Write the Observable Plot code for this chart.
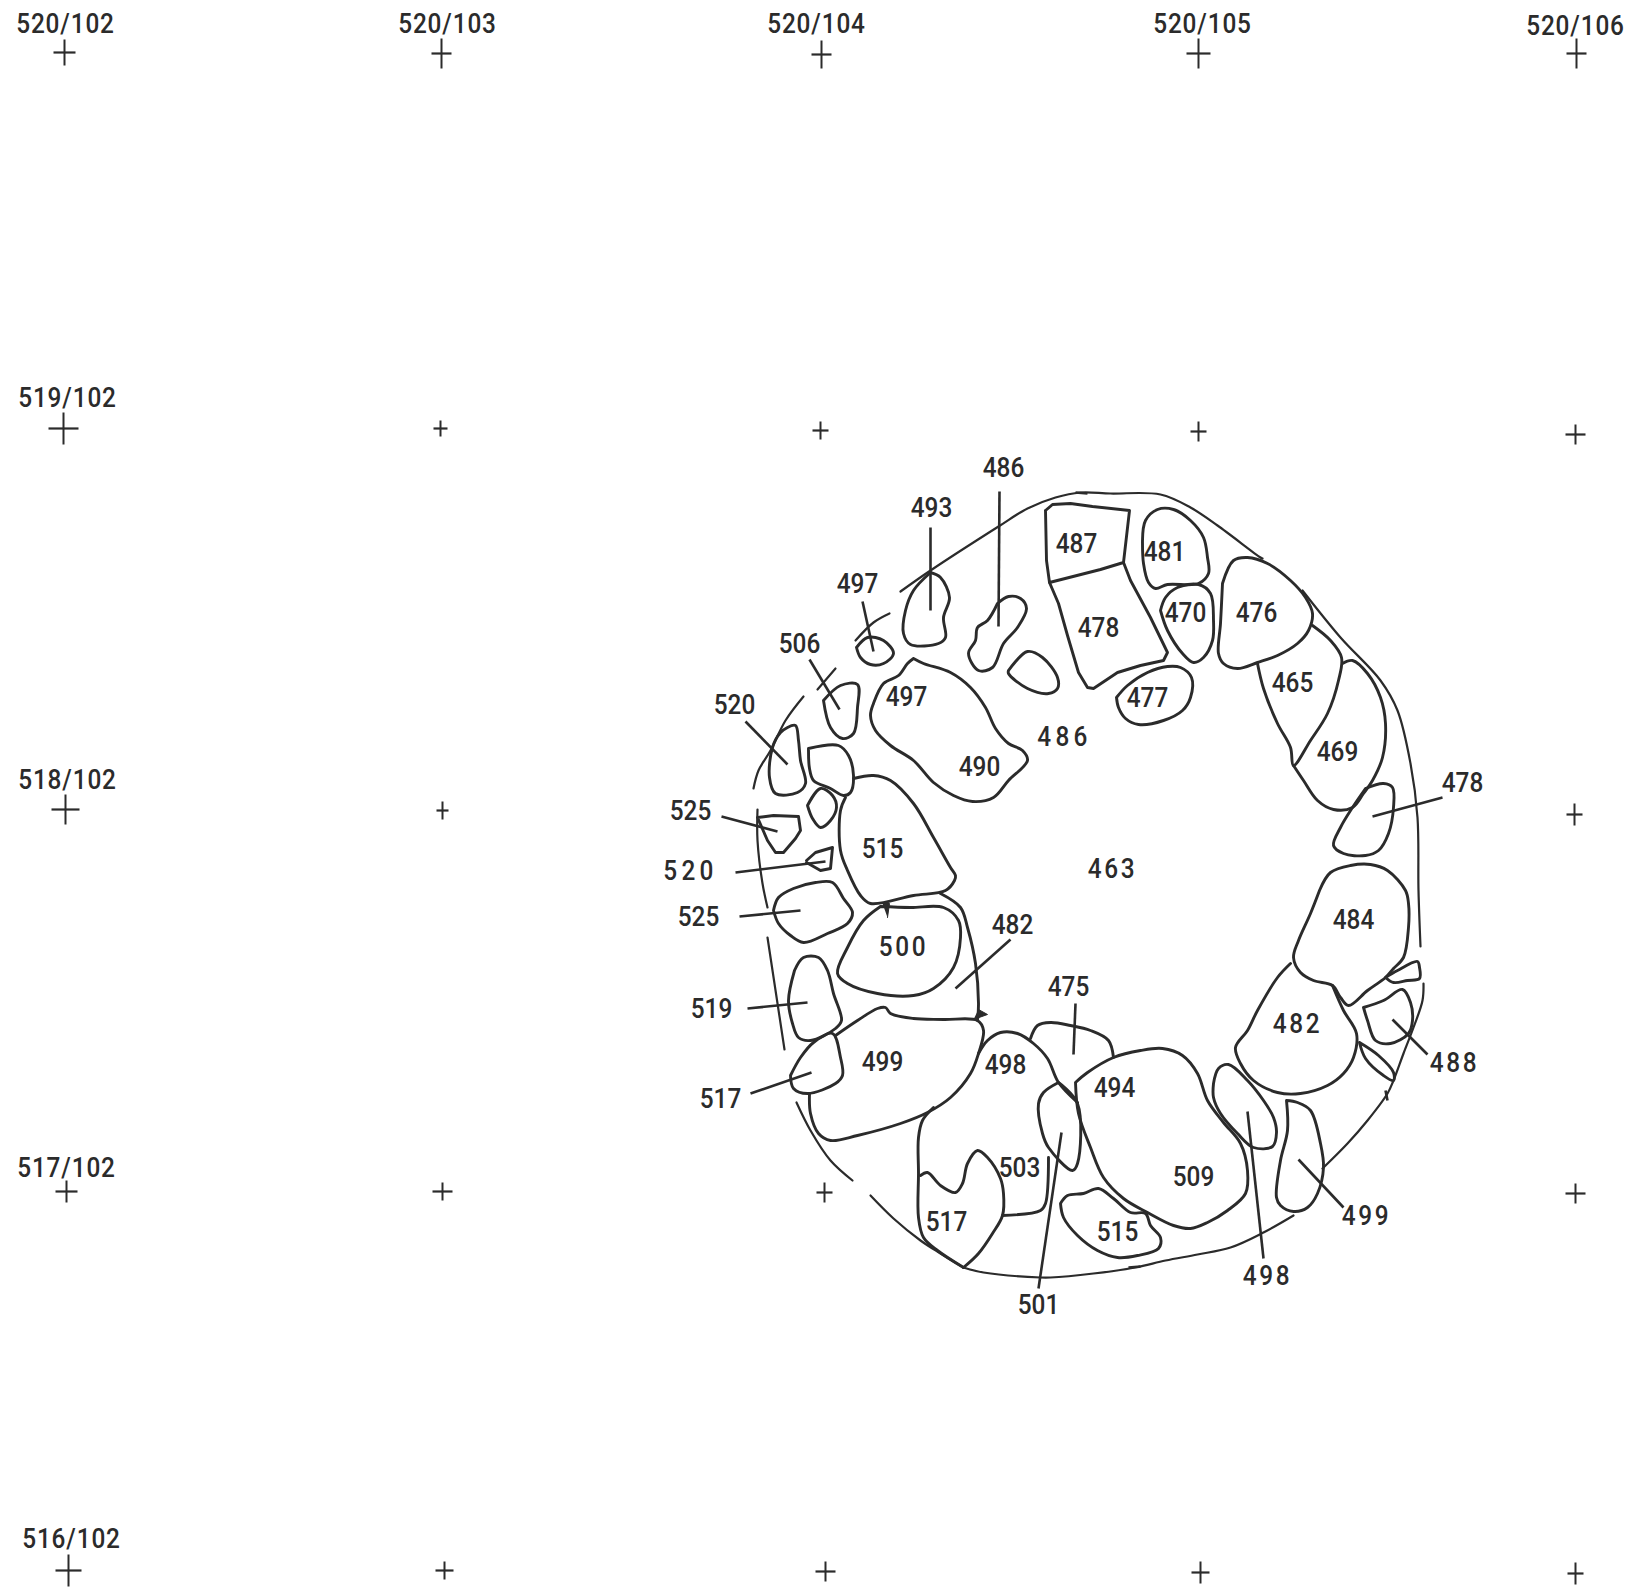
<!DOCTYPE html>
<html>
<head>
<meta charset="utf-8">
<style>
html,body{margin:0;padding:0;background:#fff}
svg{display:block}
.wide text{letter-spacing:5px}
.mid text{letter-spacing:3px}
.grid text{letter-spacing:1px}
</style>
<script src="https://cdn.jsdelivr.net/npm/d3@7"></script>
<script src="https://cdn.jsdelivr.net/npm/@observablehq/plot@0.6"></script>
</head>
<body>
<script>
// All positions are sheet coordinates of the excavation plan.
// Survey-grid crosses: [x, y, half width, half height]
const gridCrosses = [
  [64,52,11,13],[441,53,10,15],[821,54,10,14],[1198,53,12,15],[1576,53,10,15],
  [63,428,15,16],[440,428,7,8],[820,430,8,9],[1198,431,8,10],[1575,434,10,10],
  [65,809,14,15],[442,810,6,9],[1574,814,8,11],
  [66,1191,11,11],[442,1191,10,9],[824,1192,8,10],[1575,1193,10,10],
  [68,1570,13,16],[444,1570,9,9],[825,1571,10,10],[1200,1572,9,11],[1575,1573,8,11]
];
const gridLabels = [
  [65,25,"520/102"],[447,25,"520/103"],[816,25,"520/104"],[1202,25,"520/105"],[1575,27,"520/106"],
  [67,399,"519/102"],[67,781,"518/102"],[66,1169,"517/102"],[71,1540,"516/102"]
];
const levelLabels = [
  [1003,469,"486"],[931,509,"493"],[857,585,"497"],[799,645,"506"],[734,706,"520"],
  [906,698,"497"],[979,768,"490"],[690,812,"525"],[882,850,"515"],[1076,545,"487"],
  [1164,553,"481"],[1098,629,"478"],[1185,614,"470"],[1256,614,"476"],[1292,684,"465"],
  [1337,753,"469"],[1462,784,"478"],[698,918,"525"],[1012,926,"482"],[1068,988,"475"],
  [711,1010,"519"],[882,1063,"499"],[1005,1066,"498"],[720,1100,"517"],[1019,1169,"503"],
  [946,1223,"517"],[1038,1306,"501"],[1353,921,"484"],[1114,1089,"494"],[1193,1178,"509"],
  [1117,1233,"515"],[1147,699,"477"]
];
const midSpacedLabels = [
  [1112,870,"463"],[903,948,"500"],[1297,1025,"482"],[1454,1064,"488"],[1366,1217,"499"],[1267,1277,"498"]
];
const wideSpacedLabels = [
  [1064,738,"486"],[690,872,"520"]
];
const leaders = [
  [930,527,930,610],[999,491,998,626],[862,601,873,651],[809,659,839,709],[745,721,787,764],
  [721,816,777,831],[735,872,825,861],[739,916,800,910],[1010,939,955,988],[1075,1003,1073,1054],
  [747,1008,807,1002],[750,1093,811,1072],[1061,1132,1038,1288],[1247,1111,1263,1258],
  [1298,1159,1343,1207],[1392,1019,1427,1054],[1372,816,1442,797],
  [1385,1090,1387,1100],[1075,492,1087,493],[1128,1267,1140,1266]
];

// Boundary of the feature
const arcTop = [[900,591],[930,570],[998,526],[1027,508],[1055,497],[1080,492],[1110,493],[1160,494],[1190,507],[1217,525],[1260,557],[1262,558]];
const arcRight = [[1302,590],[1340,637],[1380,680],[1397,710],[1410,763],[1417,817],[1418,890],[1420,946]];
const arcLowerRight = [[1423,983],[1422,1000],[1413,1027],[1403,1053],[1393,1080],[1387,1093],[1367,1120],[1347,1143],[1322,1168]];
const arcBottom = [[1293,1215],[1263,1232],[1230,1247],[1197,1254],[1165,1260],[1135,1267],[1093,1273],[1050,1277],[1040,1277],[983,1272],[963,1267]];
const arcBottomLeft = [[870,1195],[893,1218],[920,1240],[940,1253],[963,1267]];
const arcLowerLeft = [[796,1102],[810,1130],[830,1160],[852,1180]];
const arcUpperLeft = [[803,696],[785,720],[770,750],[758,770],[753,788]];
const arcShort1 = [[835,668],[817,689]];
const arcShort2 = [[889,613],[873,622],[855,640]];
const arcLeft1 = [[757,809],[757,840],[762,883],[767,907]];
const arcLeft2 = [[767,937],[784,1049]];

// Stones
const stone476 = [[1222,583],[1233,560],[1247,557],[1267,563],[1290,580],[1305,597],[1312,613],[1308,630],[1297,643],[1277,655],[1257,662],[1237,668],[1223,663],[1218,653],[1220,623],[1222,583]];
const stone481 = [[1142,540],[1145,520],[1157,509],[1173,509],[1190,520],[1203,537],[1207,557],[1208,573],[1198,583],[1167,584],[1155,588],[1148,582],[1143,563],[1142,540]];
const stone470 = [[1160,610],[1165,597],[1177,587],[1198,584],[1210,593],[1213,620],[1212,640],[1203,657],[1193,662],[1182,653],[1167,630],[1160,610]];
const stone477 = [[1116,697],[1127,685],[1147,672],[1167,666],[1180,667],[1191,677],[1190,697],[1182,710],[1163,720],[1138,724],[1125,718],[1118,707],[1116,697]];
const stone465 = [[1257,663],[1263,688],[1277,723],[1290,747],[1293,765],[1310,740],[1327,713],[1338,680],[1341,657],[1330,640],[1312,625]];
const stone469 = [[1342,663],[1352,660],[1367,673],[1380,697],[1385,723],[1382,757],[1372,780],[1363,793],[1352,807],[1333,809],[1317,800],[1303,780],[1293,765]];
const stone478r = [[1365,788],[1383,783],[1392,787],[1393,807],[1388,833],[1378,850],[1365,855],[1343,853],[1333,845],[1340,827],[1352,807],[1365,788]];
const stone484 = [[1319,890],[1330,872],[1350,865],[1370,864],[1387,870],[1405,890],[1408,903],[1408,927],[1403,957],[1393,968],[1385,977],[1367,990],[1348,1005],[1340,997],[1332,985],[1313,980],[1300,972],[1293,957],[1298,940],[1310,913],[1319,890]];
const stoneSmallE = [[1385,977],[1397,970],[1417,961],[1419,967],[1419,978],[1407,980],[1393,982],[1385,977]];
const stone488 = [[1363,1007],[1383,1000],[1402,989],[1410,1002],[1412,1020],[1408,1033],[1390,1043],[1375,1040],[1367,1020],[1363,1007]];
const sliver = [[1359,1042],[1378,1055],[1393,1072],[1393,1080],[1383,1075],[1365,1058],[1359,1042]];
const stone482r = [[1290,963],[1277,977],[1257,1010],[1247,1030],[1235,1047],[1240,1063],[1253,1080],[1277,1092],[1300,1093],[1327,1085],[1343,1073],[1353,1057],[1356,1033],[1343,1010],[1332,985]];
const stone498r = [[1213,1083],[1218,1068],[1228,1064],[1247,1080],[1263,1100],[1273,1117],[1276,1132],[1272,1146],[1253,1147],[1237,1133],[1220,1113],[1213,1097],[1213,1083]];
const stone499r = [[1286,1100],[1297,1102],[1310,1110],[1320,1143],[1323,1167],[1317,1193],[1307,1207],[1293,1211],[1280,1205],[1276,1197],[1280,1160],[1287,1130],[1286,1100]];
const stone493 = [[930,572],[940,577],[949,597],[943,617],[945,637],[938,643],[910,644],[903,633],[905,610],[913,590],[930,572]];
const stone486 = [[997,603],[1008,596],[1020,598],[1026,608],[1017,627],[1003,643],[992,667],[978,670],[968,653],[975,640],[977,627],[987,620],[997,603]];
const stoneN = [[1008,670],[1027,651],[1042,657],[1057,677],[1057,688],[1048,693],[1027,688],[1008,673],[1008,670]];
const stone497s = [[856,647],[867,637],[883,640],[893,653],[883,663],[870,664],[860,657],[856,647]];
const stone506 = [[823,700],[840,685],[857,684],[857,707],[853,733],[842,738],[830,727],[823,700]];
const stone520 = [[787,727],[795,725],[798,740],[800,760],[805,783],[797,792],[775,793],[769,777],[772,747],[780,732],[787,727]];
const stoneW1 = [[808,748],[838,745],[848,755],[853,775],[850,792],[843,795],[830,788],[813,780],[809,768],[808,748]];
const stoneW2 = [[807,805],[820,788],[832,795],[836,807],[830,820],[820,827],[812,818],[807,805]];
const stone515 = [[845,797],[840,810],[840,850],[847,870],[860,895],[870,903],[913,895],[945,890],[954,880],[955,875],[950,867],[933,837],[913,803],[890,780],[873,775],[853,778]];
const stone497 = [[913,658],[907,663],[898,675],[883,683],[873,703],[870,715],[875,730],[890,745],[913,760],[933,782],[953,795],[972,801],[993,797],[1008,780],[1027,760],[1022,750],[1008,743],[995,728],[985,707],[970,687],[950,672],[923,663],[913,658]];
const stone525l = [[773,910],[778,897],[793,888],[815,882],[832,882],[843,898],[852,912],[847,923],[827,933],[803,942],[790,935],[778,923],[773,910]];
const stone500 = [[880,906],[910,907],[943,907],[958,920],[960,937],[953,967],[933,988],[913,995],[877,993],[847,983],[837,973],[847,947],[863,920],[880,906]];
const edge482 = [[940,893],[960,907],[967,927],[975,963],[978,1003],[977,1020]];
const stone499 = [[835,1035],[857,1020],[877,1008],[885,1007],[890,1013],[913,1018],[943,1019],[977,1020],[983,1030],[978,1053],[970,1073],[950,1097],[927,1112],[900,1123],[857,1135],[830,1140],[818,1133],[810,1113],[809,1093]];
const stone519 = [[794,970],[803,957],[818,957],[827,970],[833,993],[841,1020],[835,1028],[810,1040],[798,1037],[792,1023],[788,1000],[794,970]];
const stone517l = [[790,1075],[800,1057],[813,1042],[832,1033],[840,1057],[842,1075],[835,1083],[807,1093],[793,1088],[790,1075]];
const edge498 = [[978,1053],[987,1040],[1000,1032],[1017,1033],[1033,1043],[1047,1058],[1058,1082],[1077,1102]];
const edge503w = [[933,1107],[922,1120],[918,1137],[918,1173],[918,1217],[923,1237],[937,1250],[963,1267]];
const stone517 = [[920,1175],[927,1172],[940,1185],[955,1192],[962,1183],[967,1163],[977,1150],[987,1157],[1000,1178],[1003,1193],[1002,1215],[992,1233],[978,1253],[963,1267]];
const edge503 = [[1002,1215],[1040,1210],[1045,1203],[1048,1157]];
const stone501 = [[1058,1082],[1043,1092],[1038,1103],[1042,1133],[1048,1147],[1072,1170],[1077,1163],[1077,1103],[1058,1082]];
const edge475 = [[1030,1038],[1037,1025],[1050,1022],[1070,1025],[1090,1030],[1108,1040],[1113,1057]];
const stone494 = [[1075,1082],[1087,1072],[1113,1057],[1140,1050],[1162,1048],[1182,1055],[1197,1073],[1207,1100],[1223,1122],[1240,1143],[1247,1170],[1245,1193],[1227,1210],[1207,1222],[1190,1228],[1173,1225],[1147,1212],[1123,1198],[1103,1177],[1090,1147],[1078,1113],[1075,1082]];
const stone515s = [[1060,1203],[1067,1195],[1083,1193],[1098,1188],[1113,1198],[1130,1212],[1145,1213],[1150,1225],[1160,1237],[1158,1248],[1137,1255],[1117,1257],[1097,1250],[1077,1235],[1063,1217],[1060,1203]];
// Angular stones
const stone487 = [[1045,510],[1052,504],[1070,503],[1092,506],[1129,510],[1123,562],[1100,569],[1049,582],[1046,560],[1045,510]];
const stone478 = [[1049,582],[1058,603],[1067,635],[1078,672],[1087,687],[1093,688],[1117,672],[1140,665],[1163,660],[1167,652],[1150,617],[1130,580],[1123,562]];
const stone525u = [[757,817],[773,815],[798,816],[800,830],[795,838],[783,852],[775,852],[767,840],[757,817]];
const stone520s = [[806,860],[815,852],[832,847],[830,868],[820,870],[806,862]];
// Small filled wedges on the outline
const wedges = [[[882,903],[889,903],[887,917]],[[973,1019],[987,1014],[978,1009]]];

const thinLines = [arcTop,arcRight,arcLowerRight,arcBottom,arcBottomLeft,arcLowerLeft,arcUpperLeft,arcShort1,arcShort2,arcLeft1,arcLeft2];
const curved = [stone476,stone481,stone470,stone477,stone465,stone469,stone478r,stone484,stoneSmallE,stone488,sliver,stone482r,stone498r,stone499r,stone493,stone486,stoneN,stone497s,stone506,stone520,stoneW1,stoneW2,stone515,stone497,stone525l,stone500,edge482,stone499,stone519,stone517l,edge498,edge503w,stone517,edge503,stone501,edge475,stone494,stone515s];
const angular = [stone487,stone478,stone525u,stone520s];

const ink = "#2b2b2b";
const labelMark = (rows, extra={}) => Plot.text(rows,{x:d=>d[0],y:d=>d[1],text:d=>d[2],dy:-1,fontSize:28,fontWeight:500,fontFamily:"Roboto,sans-serif",fill:ink,textAnchor:"middle",lineAnchor:"middle",...extra});

const chart = Plot.plot({
  width:1627,height:1591,
  marginTop:0,marginRight:0,marginBottom:0,marginLeft:0,
  x:{domain:[0,1627],range:[0,1627],axis:null},
  y:{domain:[0,1591],range:[0,1591],axis:null},
  style:{background:"#fff"},
  marks:[
    Plot.link(gridCrosses,{x1:d=>d[0]-d[2],x2:d=>d[0]+d[2],y1:d=>d[1],y2:d=>d[1],stroke:ink,strokeWidth:2.2}),
    Plot.link(gridCrosses,{x1:d=>d[0],x2:d=>d[0],y1:d=>d[1]-d[3],y2:d=>d[1]+d[3],stroke:ink,strokeWidth:2}),
    ...thinLines.map(p=>Plot.line(p,{curve:"catmull-rom",stroke:ink,strokeWidth:2.2})),
    ...curved.map(p=>Plot.line(p,{curve:"catmull-rom",stroke:ink,strokeWidth:2.9})),
    ...angular.map(p=>Plot.line(p,{curve:"linear",stroke:ink,strokeWidth:2.9,strokeLinejoin:"round"})),
    Plot.link(leaders,{x1:d=>d[0],y1:d=>d[1],x2:d=>d[2],y2:d=>d[3],stroke:ink,strokeWidth:2.6}),
    ...wedges.map(p=>Plot.line(p,{stroke:ink,fill:ink,strokeWidth:1})),
    labelMark(gridLabels,{className:"grid"}),
    labelMark(levelLabels),
    labelMark(midSpacedLabels,{className:"mid"}),
    labelMark(wideSpacedLabels,{className:"wide"})
  ]
});
// the hand lettering is narrower than the installed faces: condense each label in place
d3.select(chart).selectAll("text").attr("transform",function(){return (this.getAttribute("transform")||"")+" scale(.87,1)";});
document.body.appendChild(chart);
</script>
</body>
</html>
